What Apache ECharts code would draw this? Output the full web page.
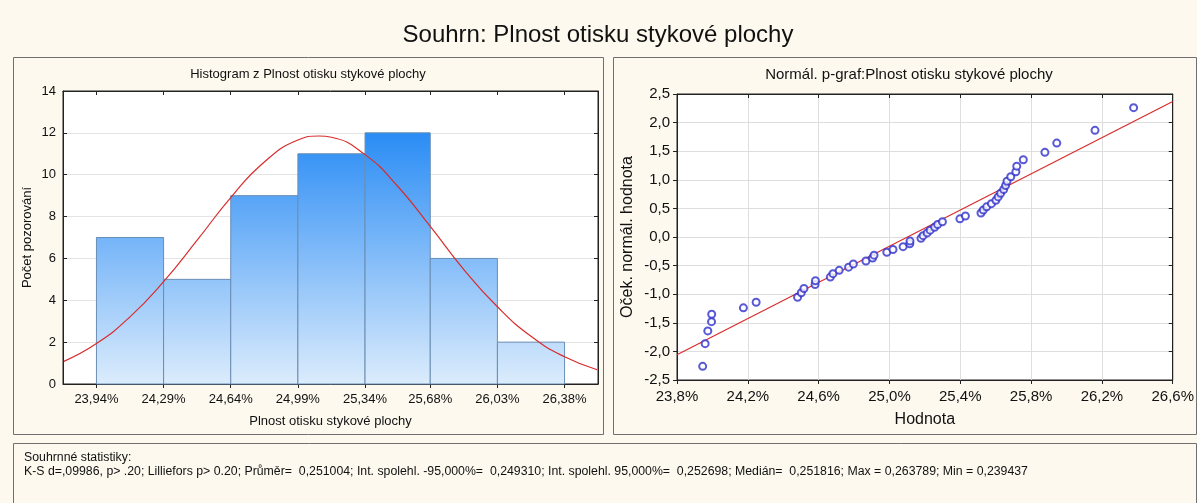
<!DOCTYPE html>
<html>
<head>
<meta charset="utf-8">
<script src="https://cdn.jsdelivr.net/npm/echarts@6/dist/echarts.min.js"></script>
<style>
    html, body { margin: 0; padding: 0; background: #fdf9ef; }
    #souhrn { width: 1197px; height: 503px; }
</style>
</head>
<body>
<div id="souhrn"></div>
<script>
    // histogram - hranice trid a cetnosti
    const binEdges = [23.94, 24.29, 24.64, 24.99, 25.34, 25.68, 26.03, 26.38];
    const binCounts = [7, 5, 9, 11, 12, 6, 2];

    // prolozena normalni krivka
    const curveX = [23.77, 23.94, 24.115, 24.29, 24.465, 24.64, 24.815, 24.99, 25.10, 25.165,
        25.34, 25.51, 25.68, 25.855, 26.03, 26.205, 26.38, 26.55];
    const curveY = [1.08, 1.93, 3.21, 4.89, 6.87, 8.91, 10.61, 11.66, 11.85, 11.79,
        10.96, 9.45, 7.53, 5.47, 3.69, 2.28, 1.30, 0.68];

    // normalni p-graf - hodnoty (%) a ocekavane normalni hodnoty
    const pX = [23.945, 23.959, 23.974, 23.995, 23.996, 24.175, 24.247, 24.481, 24.502, 24.517,
        24.580, 24.582, 24.666, 24.681, 24.716, 24.769, 24.796, 24.867, 24.905, 24.913,
        24.985, 25.020, 25.077, 25.115, 25.116, 25.178, 25.190, 25.213, 25.230, 25.255,
        25.272, 25.299, 25.398, 25.429, 25.517, 25.530, 25.549, 25.576, 25.601, 25.614,
        25.628, 25.645, 25.656, 25.664, 25.685, 25.714, 25.719, 25.756, 25.878, 25.945,
        26.161, 26.379];
    const pY = [-2.261, -1.865, -1.642, -1.480, -1.350, -1.239, -1.141, -1.054, -0.974, -0.900,
        -0.830, -0.764, -0.701, -0.641, -0.583, -0.527, -0.473, -0.420, -0.368, -0.317,
        -0.267, -0.218, -0.169, -0.120, -0.072, -0.024, 0.024, 0.072, 0.120, 0.169,
        0.218, 0.267, 0.317, 0.368, 0.420, 0.473, 0.527, 0.583, 0.641, 0.701,
        0.764, 0.830, 0.900, 0.974, 1.054, 1.141, 1.239, 1.350, 1.480, 1.642,
        1.865, 2.261];
    const fitX = [23.8, 26.6];
    const fitY = [-2.06, 2.37];

    const statsTitle = 'Souhrnné statistiky:';
    const statsText = 'K-S d=,09986, p> .20; Lilliefors p> 0.20; Průměr=  0,251004; Int. spolehl. -95,000%=  0,249310; Int. spolehl. 95,000%=  0,252698; Medián=  0,251816; Max = 0,263789; Min = 0,239437';

    const FONT = '"Liberation Sans", Arial, sans-serif';
    const half = (binEdges[binEdges.length - 1] - binEdges[0]) / (binCounts.length * 2);
    const maxCount = Math.max(...binCounts);

    const light = [220, 236, 252];
    const dark = [42, 140, 245];
    function mix(t) {
        const c = light.map((l, k) => Math.round(l + (dark[k] - l) * t));
        return 'rgb(' + c.join(',') + ')';
    }

    const histData = binCounts.map((c, i) => [binEdges[i], binEdges[i + 1], c]);

    const fmtPct = (v, d) => v.toFixed(d).replace('.', ',') + '%';
    const fmtNum = v => v.toFixed(1).replace('.', ',');

    const e = echarts.init(document.getElementById('souhrn'));
    e.setOption({
        backgroundColor: '#fdf9ef',
        animation: false,
        textStyle: {fontFamily: FONT, color: '#111'},
        graphic: [
            {type: 'rect', shape: {x: 13.5, y: 57.5, width: 590, height: 377}, style: {fill: 'none', stroke: '#707070', lineWidth: 1}},
            {type: 'rect', shape: {x: 613.5, y: 57.5, width: 583, height: 377}, style: {fill: 'none', stroke: '#707070', lineWidth: 1}},
            {type: 'rect', shape: {x: 13.5, y: 443.5, width: 1183, height: 80}, style: {fill: 'none', stroke: '#707070', lineWidth: 1}},
            {type: 'text', x: 598, y: 35, style: {text: 'Souhrn: Plnost otisku stykové plochy', font: '24px ' + FONT, fill: '#111', align: 'center', verticalAlign: 'middle', textAlign: 'center', textVerticalAlign: 'middle'}},
            {type: 'text', x: 308, y: 74, style: {text: 'Histogram z Plnost otisku stykové plochy', font: '13px ' + FONT, fill: '#111', align: 'center', verticalAlign: 'middle', textAlign: 'center', textVerticalAlign: 'middle'}},
            {type: 'text', x: 909, y: 75, style: {text: 'Normál. p-graf:Plnost otisku stykové plochy', font: '15px ' + FONT, fill: '#111', align: 'center', verticalAlign: 'middle', textAlign: 'center', textVerticalAlign: 'middle'}},
            {type: 'text', x: 24, y: 458, style: {text: statsTitle, font: '12.3px ' + FONT, fill: '#111', align: 'left', verticalAlign: 'middle', textAlign: 'left', textVerticalAlign: 'middle'}},
            {type: 'text', x: 24, y: 472, style: {text: statsText, font: '12.3px ' + FONT, fill: '#111', align: 'left', verticalAlign: 'middle', textAlign: 'left', textVerticalAlign: 'middle'}}
        ],
        grid: [
            {left: 63, top: 91, width: 535, height: 293, show: true, backgroundColor: '#fff', borderColor: '#222', borderWidth: 1},
            {left: 677, top: 94, width: 500, height: 286, show: true, backgroundColor: '#fff', borderColor: '#222', borderWidth: 1}
        ],
        xAxis: [
            {
                type: 'value', gridIndex: 0, min: binEdges[0] - half, max: binEdges[binEdges.length - 1] + half,
                name: 'Plnost otisku stykové plochy', nameLocation: 'middle', nameGap: 31,
                nameTextStyle: {fontSize: 13, color: '#111'},
                axisLine: {onZero: false, lineStyle: {color: '#222'}},
                axisTick: {customValues: binEdges, length: 4, lineStyle: {color: '#222'}},
                axisLabel: {customValues: binEdges, formatter: v => fmtPct(v, 2), fontSize: 13, color: '#111', margin: 9},
                splitLine: {show: false}
            },
            {
                type: 'value', gridIndex: 0, position: 'top', min: binEdges[0] - half, max: binEdges[binEdges.length - 1] + half,
                axisLine: {onZero: false, lineStyle: {color: '#222'}},
                axisTick: {customValues: binEdges, inside: true, length: 4, lineStyle: {color: '#222'}},
                axisLabel: {show: false}, splitLine: {show: false}
            },
            {
                type: 'value', gridIndex: 1, min: 23.8, max: 26.6, interval: 0.4,
                name: 'Hodnota', nameLocation: 'middle', nameGap: 32,
                nameTextStyle: {fontSize: 16, color: '#111'},
                axisLine: {onZero: false, lineStyle: {color: '#222'}},
                axisTick: {length: 4, lineStyle: {color: '#222'}},
                axisLabel: {formatter: v => fmtPct(v, 1), fontSize: 15, color: '#111', margin: 9, showMaxLabel: true, showMinLabel: true},
                splitLine: {show: true, lineStyle: {color: '#dedede'}}
            },
            {
                type: 'value', gridIndex: 1, position: 'top', min: 23.8, max: 26.6, interval: 0.4,
                axisLine: {onZero: false, lineStyle: {color: '#222'}},
                axisTick: {inside: true, length: 4, lineStyle: {color: '#222'}},
                axisLabel: {show: false}, splitLine: {show: false}
            }
        ],
        yAxis: [
            {
                type: 'value', gridIndex: 0, min: 0, max: 14, interval: 2,
                name: 'Počet pozorování', nameLocation: 'middle', nameGap: 29,
                nameTextStyle: {fontSize: 13, color: '#111'},
                axisLine: {show: true, onZero: false, lineStyle: {color: '#222'}},
                axisTick: {show: true, inside: true, length: 4, lineStyle: {color: '#222'}},
                axisLabel: {fontSize: 13, color: '#111', margin: 7},
                splitLine: {show: true, lineStyle: {color: '#e4e4e4'}}
            },
            {
                type: 'value', gridIndex: 0, position: 'right', min: 0, max: 14, interval: 2,
                axisLine: {show: true, onZero: false, lineStyle: {color: '#222'}},
                axisTick: {show: true, inside: true, length: 4, lineStyle: {color: '#222'}},
                axisLabel: {show: false}, splitLine: {show: false}
            },
            {
                type: 'value', gridIndex: 1, min: -2.5, max: 2.5, interval: 0.5,
                name: 'Oček. normál. hodnota', nameLocation: 'middle', nameGap: 41,
                nameTextStyle: {fontSize: 16, color: '#111'},
                axisLine: {show: true, onZero: false, lineStyle: {color: '#222'}},
                axisTick: {show: true, length: 4, lineStyle: {color: '#222'}},
                axisLabel: {formatter: fmtNum, fontSize: 15, color: '#111', margin: 7},
                splitLine: {show: true, lineStyle: {color: '#dedede'}}
            },
            {
                type: 'value', gridIndex: 1, position: 'right', min: -2.5, max: 2.5, interval: 0.5,
                axisLine: {show: true, onZero: false, lineStyle: {color: '#222'}},
                axisTick: {show: true, inside: true, length: 4, lineStyle: {color: '#222'}},
                axisLabel: {show: false}, splitLine: {show: false}
            }
        ],
        series: [
            {
                type: 'custom',
                xAxisIndex: 0,
                yAxisIndex: 0,
                encode: {x: [0, 1], y: 2},
                data: histData,
                renderItem: function (params, api) {
                    const count = api.value(2);
                    const p0 = api.coord([api.value(0), count]);
                    const p1 = api.coord([api.value(1), 0]);
                    return {
                        type: 'rect',
                        shape: {x: p0[0], y: p0[1], width: p1[0] - p0[0], height: p1[1] - p0[1]},
                        style: {
                            fill: new echarts.graphic.LinearGradient(0, 0, 0, 1, [
                                {offset: 0, color: mix(count / maxCount)},
                                {offset: 1, color: mix(0)}
                            ]),
                            stroke: '#6a8db3',
                            lineWidth: 1
                        }
                    };
                }
            },
            {
                type: 'line',
                xAxisIndex: 0,
                yAxisIndex: 0,
                data: curveX.map((x, i) => [x, curveY[i]]),
                smooth: true,
                showSymbol: false,
                lineStyle: {color: '#d82c2c', width: 1.2},
                z: 5
            },
            {
                type: 'line',
                xAxisIndex: 2,
                yAxisIndex: 2,
                data: fitX.map((x, i) => [x, fitY[i]]),
                showSymbol: false,
                lineStyle: {color: '#d82c2c', width: 1.2},
                z: 3
            },
            {
                type: 'scatter',
                xAxisIndex: 2,
                yAxisIndex: 2,
                data: pX.map((x, i) => [x, pY[i]]),
                symbol: 'emptyCircle',
                symbolSize: 7,
                itemStyle: {color: '#2f2fcc', borderWidth: 1},
                z: 4
            }
        ]
    });
</script>
</body>
</html>
